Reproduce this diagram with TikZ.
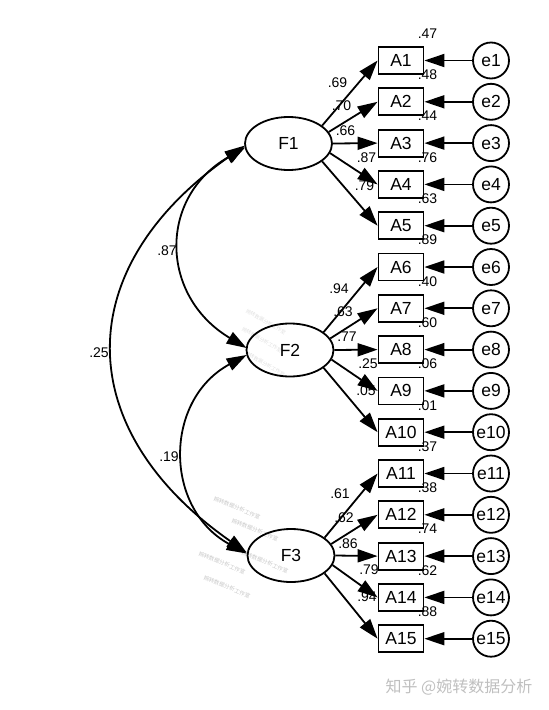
\documentclass[tikz,border=0pt]{standalone}
\usepackage{fontspec}
\setmainfont{Liberation Sans}
\newfontfamily\cjk{Noto Sans CJK SC}
\usetikzlibrary{arrows.meta,calc,shapes.geometric}
\begin{document}
\begin{tikzpicture}[x=1pt,y=1pt,line width=1.8pt,
  lat/.style={ellipse,draw,minimum width=87pt,minimum height=53pt,inner sep=0pt,font=\fontsize{17.5}{20}\selectfont},
  obs/.style={rectangle,draw,minimum width=45pt,minimum height=27pt,inner sep=0pt,font=\fontsize{17.5}{20}\selectfont},
  err/.style={circle,draw,minimum size=36pt,inner sep=0pt,font=\fontsize{17.5}{20}\selectfont},
  lbl/.style={font=\fontsize{14}{16}\selectfont,inner sep=0pt},
  tip/.style={-{Triangle[length=20pt,width=13pt]}},
  cov/.style={{Triangle[length=20pt,width=13pt]}-{Triangle[length=20pt,width=13pt]}},
  wm/.style={text=black!22,font=\cjk\fontsize{5.5}{6}\selectfont,inner sep=0pt,rotate=-22},
  wmb/.style={text=black!12,font=\cjk\fontsize{5}{6}\selectfont,inner sep=0pt,rotate=-30}]
\useasboundingbox (0,0) rectangle (549,-710);
% watermarks
\node[wmb] (w1) at (266,-322) {婉转数据分析工作室};
\node[wmb] (w2) at (262,-340) {婉转数据分析工作室};
\node[wmb] (w3) at (265,-364) {婉转数据分析工作室};
\node[wm] (w4) at (237,-508) {婉转数据分析工作室};
\node[wm] (w5) at (255,-530) {婉转数据分析工作室};
\node[wm] (w6) at (265,-562) {婉转数据分析工作室};
\node[wm] (w7) at (222,-563) {婉转数据分析工作室};
\node[wm] (w8) at (227,-587) {婉转数据分析工作室};
% factors
\node[lat] (F1) at (288.5,-143.5) {F1};
\node[lat] (F2) at (290,-350) {F2};
\node[lat] (F3) at (291,-555.5) {F3};
% indicators and errors
\foreach \i in {1,...,15} {
  \pgfmathsetmacro\yy{-(60.5+(\i-1)*41.3)}
  \node[obs] (A\i) at (401,\yy) {A\i};
  \node[err] (e\i) at (491,\yy) {e\i};
  \draw[tip] (e\i) -- (A\i);
}
% R squared
\foreach \i/\r in {1/.47,2/.48,3/.44,4/.76,5/.63,6/.89,7/.40,8/.60,9/.06,10/.01,11/.37,12/.38,13/.74,14/.62,15/.88}
  \node[lbl] (r\i) at ($(A\i)+(26.5,27)$) {\r};
% loadings
\foreach \f/\a/\ang/\dx/\dy/\v in {
  F1/A1/28/49/61/.69, F1/A2/16/53/38/.70, F1/A3/0/57/13/.66, F1/A4/347/78/-14/.87, F1/A5/332/76/-42/.79,
  F2/A6/28/49/61/.94, F2/A7/16/53/38/.63, F2/A8/0/57/13/.77, F2/A9/347/78/-14/.25, F2/A10/332/76/-41/.05,
  F3/A11/28/49/62/.61, F3/A12/16/53/38/.62, F3/A13/0/57/12/.86, F3/A14/347/78/-14/.79, F3/A15/332/76/-41/.94}
{
  \node[lbl] (l\a) at ($(\f)+(\dx,\dy)$) {\v};
  \draw[tip] (\f.\ang) -- (\a.west);
}
% covariances
\draw[cov] ($(F1.west)+(1,-4)$) .. controls +(-87,-50) and +(-87,52) .. ($(F2.west)+(1,2)$);
\draw[cov] ($(F2.west)+(1,-5)$) .. controls +(-83,-45) and +(-83,45) .. ($(F3.west)+(0,2)$);
\draw[cov] ($(F1.west)+(1,-2)$) .. controls +(-176,-123) and +(-176,123) .. ($(F3.west)+(0,3)$);
\node[lbl] (c12) at (167,-251) {.87};
\node[lbl] (c23) at (169,-457) {.19};
\node[lbl] (c13) at (99,-353) {.25};
% footer
\node[text=black!25,font=\cjk\fontsize{16}{18}\selectfont,inner sep=0pt] (ft) at (459,-687) {知乎 @婉转数据分析};
\end{tikzpicture}
\end{document}
